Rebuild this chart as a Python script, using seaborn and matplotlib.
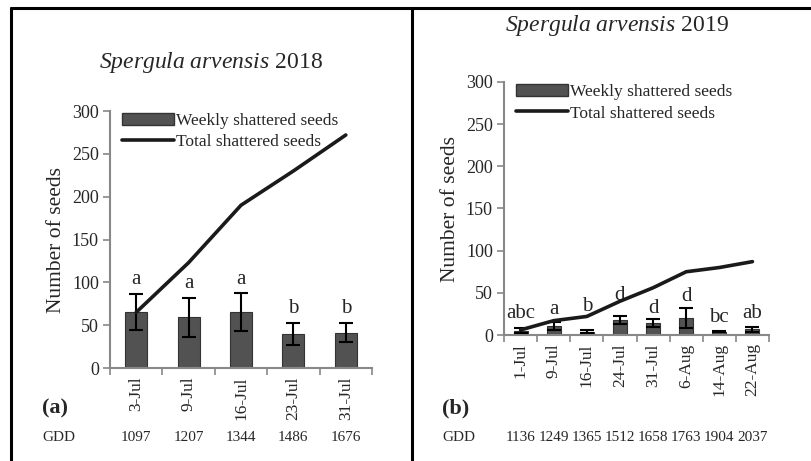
import numpy as np
import pandas as pd
import matplotlib
matplotlib.use('Agg')
import matplotlib.pyplot as plt
import seaborn as sns
from matplotlib.lines import Line2D
from matplotlib.patches import Patch

# Dados - 2018
datas_2018 = ['3-Jul', '9-Jul', '16-Jul', '23-Jul', '31-Jul']
gdd_2018 = ['1097', '1207', '1344', '1486', '1676']
semanal_2018 = [65, 59, 65, 40, 41]
erro_2018 = [21, 23, 22, 13, 11]
total_2018 = [65, 123, 190, 230, 272]
letras_2018 = ['a', 'a', 'a', 'b', 'b']
altura_letras_2018 = [103, 99, 103, 70, 70]

# Dados - 2019
datas_2019 = ['1-Jul', '9-Jul', '16-Jul', '24-Jul', '31-Jul', '6-Aug', '14-Aug', '22-Aug']
gdd_2019 = ['1136', '1249', '1365', '1512', '1658', '1763', '1904', '2037']
semanal_2019 = [5, 11, 4, 18, 14, 20, 4, 7]
erro_2019 = [3, 5, 2, 5, 5, 12, 1, 3]
total_2019 = [6, 17, 22, 40, 56, 75, 80, 87]
letras_2019 = ['abc', 'a', 'b', 'd', 'd', 'd', 'bc', 'ab']
altura_letras_2019 = [26, 30, 34, 47, 32, 46, 21, 26]

sns.set_theme(style='white')
plt.rcParams['font.family'] = ['Liberation Serif', 'DejaVu Serif']
plt.rcParams['mathtext.fontset'] = 'custom'
plt.rcParams['mathtext.it'] = 'Liberation Serif:italic'
plt.rcParams['mathtext.rm'] = 'Liberation Serif'

fig = plt.figure(figsize=(8.11, 4.61), dpi=100)
W, H = 811, 461


def painel(rect, datas, gdd, semanal, erro, total, letras, alturas, titulo, tag,
           titulo_xy, tag_x, gdd_x):
    ax = fig.add_axes(rect)
    df = pd.DataFrame({'data': datas, 'semanal': semanal})
    sns.barplot(data=df, x='data', y='semanal', color='#525252', width=0.42,
                saturation=1, edgecolor='#333333', linewidth=0.8, ax=ax)
    x = np.arange(len(datas))
    ax.errorbar(x, semanal, yerr=erro, fmt='none', ecolor='black',
                elinewidth=1.5, capsize=5, capthick=1.5, zorder=4)
    sns.lineplot(x=x, y=total, color='#1a1a1a', linewidth=2.6, ax=ax, zorder=5)
    for xi, l, h in zip(x, letras, alturas):
        ax.text(xi, h, l, ha='center', va='center', fontsize=15)

    ax.set_xlim(-0.5, len(datas) - 0.5)
    ax.set_ylim(0, 300)
    ax.set_yticks(range(0, 301, 50))
    ax.set_xticks(x)
    ax.set_xticklabels(datas, rotation=90, fontsize=12.5)
    ax.set_xticks(np.arange(-0.5, len(datas)), minor=True)
    ax.tick_params(axis='x', which='major', length=0, pad=6)
    ax.tick_params(axis='x', which='minor', length=5, color='#888888', width=1.2,
                   direction='out', bottom=True)
    ax.tick_params(axis='y', length=5, color='#888888', width=1.2,
                   direction='out', left=True, labelsize=13, pad=3)
    ax.set_xlabel('')
    ax.set_ylabel('Number of seeds', fontsize=15.5, labelpad=4)
    for s in ['top', 'right']:
        ax.spines[s].set_visible(False)
    for s in ['left', 'bottom']:
        ax.spines[s].set_color('#888888')
        ax.spines[s].set_linewidth(1.5)

    handles = [Patch(facecolor='#525252', edgecolor='#333333'),
               Line2D([0], [0], color='#1a1a1a', linewidth=2.6)]
    ax.legend(handles, ['Weekly shattered seeds', 'Total shattered seeds'],
              loc='upper left', bbox_to_anchor=(0.0, 1.04), frameon=False,
              fontsize=12.5, handlelength=3.0, handletextpad=0.1,
              labelspacing=0.3, borderaxespad=0.3)

    fig.text(titulo_xy[0] / W, 1 - titulo_xy[1] / H, titulo, ha='center',
             va='center', fontsize=17)
    fig.text(tag_x, 1 - 408 / H, tag, ha='left', va='center', fontsize=16,
             fontweight='bold')
    fig.text(gdd_x, 1 - 437 / H, 'GDD', ha='left', va='center', fontsize=11)
    for xi, g in zip(x, gdd):
        xf = fig.transFigure.inverted().transform(ax.transData.transform((xi, 0)))[0]
        fig.text(xf, 1 - 437 / H, g, ha='center', va='center', fontsize=11)
    return ax


painel([110 / W, 1 - 368 / H, 262 / W, 257 / H], datas_2018, gdd_2018,
       semanal_2018, erro_2018, total_2018, letras_2018, altura_letras_2018,
       r'$\it{Spergula\ arvensis}$ 2018', '(a)', (211, 62), 42 / W, 42 / W)
painel([504 / W, 1 - 335 / H, 265 / W, 253 / H], datas_2019, gdd_2019,
       semanal_2019, erro_2019, total_2019, letras_2019, altura_letras_2019,
       r'$\it{Spergula\ arvensis}$ 2019', '(b)', (617, 26), 442 / W, 442 / W)

# Moldura
borda = dict(color='black', linewidth=2.2, transform=fig.transFigure)
fig.add_artist(Line2D([11 / W, 11 / W], [0, 1 - 8.5 / H], **borda))
fig.add_artist(Line2D([11 / W, 1], [1 - 8.5 / H, 1 - 8.5 / H], **borda))
fig.add_artist(Line2D([412 / W, 412 / W], [0, 1 - 8.5 / H], **borda))

plt.savefig('out.png', dpi=100)
